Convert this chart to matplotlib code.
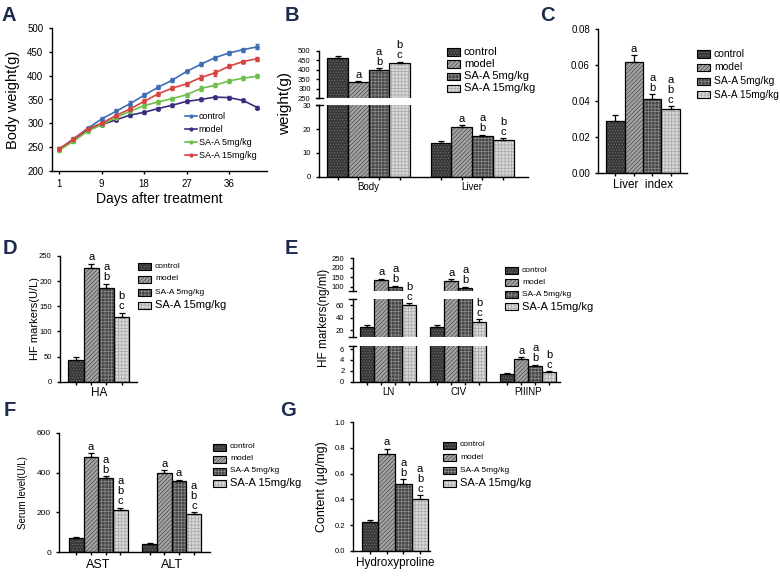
import numpy as np
import matplotlib.pyplot as plt
from matplotlib.patches import Rectangle
from matplotlib.ticker import FormatStrFormatter

plt.rcParams['font.family'] = ['Liberation Sans', 'DejaVu Sans']
plt.rcParams['hatch.linewidth'] = 0.5
plt.rcParams['axes.linewidth'] = 1.0
plt.rcParams['xtick.major.width'] = 1.0
plt.rcParams['ytick.major.width'] = 1.0
plt.rcParams['xtick.minor.width'] = 1.0
plt.rcParams['xtick.major.size'] = 2.5
plt.rcParams['ytick.major.size'] = 2.5
plt.rcParams['xtick.minor.size'] = 2.5

groups = ['control', 'model', 'SA-A 5mg/kg', 'SA-A 15mg/kg']

# A: body weight over time
days = [0, 3, 6, 9, 12, 15, 18, 21, 24, 27, 30, 33, 36, 39, 42]
day_ticks = [0, 9, 18, 27, 36]
day_labels = ['1', '9', '18', '27', '36']
bw_control = [245, 267, 289, 309, 325, 341, 359, 376, 391, 409, 424, 438, 448, 455, 461]
bw_model = [246, 264, 287, 297, 307, 317, 323, 331, 338, 346, 350, 355, 354, 348, 333]
bw_sa5 = [243, 262, 283, 297, 312, 325, 337, 345, 352, 360, 373, 380, 389, 395, 399]
bw_sa15 = [246, 266, 288, 300, 316, 330, 346, 362, 374, 383, 396, 406, 420, 430, 436]
err_control = [3, 3, 4, 5, 5, 5, 4, 4, 4, 4, 4, 4, 4, 4, 5]
err_model = [3, 3, 3, 3, 3, 3, 3, 3, 3, 3, 3, 3, 3, 3, 4]
err_sa5 = [3, 3, 3, 3, 3, 4, 4, 4, 4, 4, 5, 4, 4, 4, 4]
err_sa15 = [3, 3, 3, 3, 3, 4, 4, 4, 4, 4, 5, 6, 4, 4, 4]

# B: body and liver weight (rows = treatment, cols = group)
b_names = ['Body', 'Liver']
b_vals = [[460, 14.2], [333, 20.8], [399, 16.9], [435, 15.6]]
b_errs = [[12, 0.6], [8, 0.8], [8, 0.7], [7, 0.6]]
b_marks = [['', ''], ['a', 'a'], ['a\nb', 'a\nb'], ['b\nc', 'b\nc']]

# C: liver index
c_names = ['Liver  index']
c_vals = [[0.029], [0.062], [0.0415], [0.0355]]
c_errs = [[0.0035], [0.0035], [0.0025], [0.0018]]
c_marks = [[''], ['a'], ['a\nb'], ['a\nb\nc']]

# D: HA
d_names = ['HA']
d_vals = [[44], [226], [187], [128]]
d_errs = [[5], [9], [8], [9]]
d_marks = [[''], ['a'], ['a\nb'], ['b\nc']]

# E: LN, CIV, PIIINP
e_names = ['LN', 'CIV', 'PIIINP']
e_vals = [[26, 26, 1.4], [135, 130, 4.2], [97, 95, 2.9], [60, 34, 1.7]]
e_errs = [[2, 2, 0.15], [8, 8, 0.3], [8, 5, 0.2], [3, 4, 0.2]]
e_marks = [['', '', ''], ['a', 'a', 'a'], ['a\nb', 'a\nb', 'a\nb'], ['b\nc', 'b\nc', 'b\nc']]

# F: AST, ALT
f_names = ['AST', 'ALT']
f_vals = [[70, 42], [478, 397], [372, 358], [212, 192]]
f_errs = [[7, 5], [18, 15], [10, 6], [12, 10]]
f_marks = [['', ''], ['a', 'a'], ['a\nb', 'a'], ['a\nb\nc', 'a\nb\nc']]

# G: hydroxyproline
g_names = ['Hydroxyproline']
g_vals = [[0.22], [0.75], [0.52], [0.40]]
g_errs = [[0.02], [0.045], [0.035], [0.03]]
g_marks = [[''], ['a'], ['a\nb'], ['a\nb\nc']]

# fill colour, hatch, hatch colour
styles = [('#383838', '......', '#6e6e6e'),
          ('#a4a4a4', '////////', '#4a4a4a'),
          ('#474747', '+++++', '#8c8c8c'),
          ('#d8d8d8', '+++++', '#a8a8a8')]
line_colors = ['#3f6db5', '#3b2d7f', '#6cc04a', '#d9433f']

W, H = 780, 576
fig = plt.figure(figsize=(7.8, 5.76), dpi=100)


def box(x0, y0, x1, y1):
    ax = fig.add_axes([x0 / W, 1 - y1 / H, (x1 - x0) / W, (y1 - y0) / H])
    ax.spines[['top', 'right']].set_visible(False)
    ax.patch.set_alpha(0)
    return ax


def bars(ax, vals, errs, w=0.2):
    for i, st in enumerate(styles):
        xs = np.arange(len(vals[i])) + (i - 1.5) * w
        ax.bar(xs, vals[i], w, color=st[0], edgecolor=st[2], hatch=st[1], lw=0, zorder=2)
        ax.bar(xs, vals[i], w, fill=False, edgecolor='black', lw=0.9, zorder=3)
        ax.errorbar(xs, vals[i], yerr=[np.zeros(len(errs[i])), errs[i]], fmt='none',
                    ecolor='black', elinewidth=0.9, capsize=2.5, capthick=0.9, zorder=3)


def letters(axs, vals, errs, marks, w=0.2, fs=8):
    for i in range(4):
        for g in range(len(vals[i])):
            if not marks[i][g]:
                continue
            top = vals[i][g] + errs[i][g]
            ax = [a for a in axs if a.get_ylim()[0] <= top <= a.get_ylim()[1]][0]
            ax.annotate(marks[i][g], (g + (i - 1.5) * w, top), xytext=(0, 1),
                        textcoords='offset points', ha='center', va='bottom',
                        fontsize=fs, linespacing=1.0, annotation_clip=False)


def xgroups(ax, names, pad, fs, w=0.2):
    centers = [g + (i - 1.5) * w for g in range(len(names)) for i in range(4)]
    ax.set_xticks(centers, minor=True)
    ax.set_xticks(range(len(names)), names)
    ax.tick_params(axis='x', which='major', length=0, pad=pad, labelsize=fs)


def no_x(ax):
    ax.spines['bottom'].set_visible(False)
    ax.tick_params(axis='x', which='both', bottom=False, labelbottom=False)


def caps(ax, where):
    d = 3.5 / (ax.get_position().width * W)
    for y in where:
        ax.plot([-d, d], [y, y], transform=ax.transAxes, color='k', lw=1.0, clip_on=False)


def key(x, y, dy, sizes):
    for i, (st, lab) in enumerate(zip(styles, groups)):
        yc = y + i * dy
        for kw in (dict(facecolor=st[0], edgecolor=st[2], hatch=st[1], lw=0),
                   dict(fill=False, edgecolor='k', lw=0.8)):
            fig.add_artist(Rectangle((x / W, 1 - (yc + 3.5) / H), 13 / W, 7 / H,
                                     transform=fig.transFigure, **kw))
        fig.text((x + 17) / W, 1 - yc / H, lab, fontsize=sizes[i], va='center')


def ylab(ax, text, right_px, fs, frac=0.5):
    pos = ax.get_position()
    ax.set_ylabel(text, fontsize=fs)
    ax.yaxis.set_label_coords((right_px / W - pos.x0) / pos.width, frac)


def panel(x, y, s):
    fig.text(x / W, 1 - y / H, s, fontsize=14.5, fontweight='bold', color='#1d2b4f', va='top')


# ---- A
ax = box(51.7, 28.3, 266.7, 170.7)
series = [bw_control, bw_model, bw_sa5, bw_sa15]
errors = [err_control, err_model, err_sa5, err_sa15]
for vals, err, c, lab in zip(series, errors, line_colors, groups):
    ax.errorbar(days, vals, yerr=err, fmt='none', ecolor=c, elinewidth=0.8, capsize=1.5)
    ax.plot(days, vals, '-o', color=c, ms=2.5, lw=1.2, label=lab)
ax.set_xlim(-1.6, 44)
ax.set_ylim(200, 500)
ax.set_yticks(range(200, 501, 50))
ax.set_xticks(day_ticks, day_labels)
ax.tick_params(labelsize=7)
ax.set_xlabel('Days after treatment', fontsize=10, labelpad=2)
ylab(ax, 'Body weight(g)', 20, 10.5)
ax.legend(loc='upper left', bbox_to_anchor=(185 / W, 1 - 112 / H), bbox_transform=fig.transFigure,
          frameon=False, fontsize=6.5, handlelength=1.3, handletextpad=0.2, labelspacing=0.45,
          borderpad=0, borderaxespad=0, markerscale=0.8)
panel(2, 6, 'A')

# ---- B (broken axis)
bu = box(319, 50.7, 528, 98.3)
bl = box(319, 105.3, 528, 176.7)
for a in (bu, bl):
    bars(a, b_vals, b_errs)
    a.set_xlim(-0.48, 1.54)
    a.tick_params(labelsize=5.5)
bu.set_ylim(250, 500)
bu.set_yticks(range(250, 501, 50))
bl.set_ylim(0, 30)
bl.set_yticks([0, 10, 20, 30])
no_x(bu)
xgroups(bl, b_names, pad=3.5, fs=7)
caps(bu, [0])
caps(bl, [1])
letters([bl, bu], b_vals, b_errs, b_marks)
ylab(bl, 'weight(g)', 292, 11, frac=1.02)
key(447, 52, 12, [8, 8, 8, 8])
panel(285, 6, 'B')

# ---- C
ax = box(598.3, 29.3, 686.7, 173.3)
bars(ax, c_vals, c_errs)
ax.set_xlim(-0.486, 0.476)
ax.set_ylim(0, 0.08)
ax.set_yticks([0, 0.02, 0.04, 0.06, 0.08])
ax.yaxis.set_major_formatter(FormatStrFormatter('%.2f'))
ax.tick_params(labelsize=7)
xgroups(ax, c_names, pad=4, fs=8.5)
letters([ax], c_vals, c_errs, c_marks)
key(697, 54, 13.5, [7.5, 7.5, 7.5, 7.3])
panel(540, 6, 'C')

# ---- D
ax = box(60, 256, 136.7, 381.7)
bars(ax, d_vals, d_errs)
ax.set_xlim(-0.51, 0.50)
ax.set_ylim(0, 250)
ax.set_yticks(range(0, 251, 50))
ax.tick_params(labelsize=5.5)
xgroups(ax, d_names, pad=4, fs=8.5)
letters([ax], d_vals, d_errs, d_marks)
ylab(ax, 'HF markers(U/L)', 40, 8)
key(138, 266, 13, [6, 6, 6, 8])
panel(3, 239, 'D')

# ---- E (two breaks)
et = box(352.7, 258.3, 560, 291.4)
em = box(352.7, 299.1, 560, 336.6)
eb = box(352.7, 346.3, 560, 381.7)
for a in (et, em, eb):
    bars(a, e_vals, e_errs)
    a.set_xlim(-0.51, 2.45)
    a.tick_params(labelsize=5.5)
et.set_ylim(75, 250)
et.set_yticks([100, 150, 200, 250])
em.set_ylim(10, 70)
em.set_yticks([20, 40, 60])
eb.set_ylim(0, 6.5)
eb.set_yticks([0, 2, 4, 6])
no_x(et)
no_x(em)
xgroups(eb, e_names, pad=4, fs=7)
caps(et, [0])
caps(em, [0, 1])
caps(eb, [1])
letters([eb, em, et], e_vals, e_errs, e_marks)
ylab(em, 'HF markers(ng/ml)', 330, 8.5)
key(505, 270, 12.3, [6, 6, 6, 8])
panel(285, 239, 'E')

# ---- F
ax = box(59.3, 432.7, 210, 552.3)
bars(ax, f_vals, f_errs)
ax.set_xlim(-0.53, 1.52)
ax.set_ylim(0, 600)
ax.set_yticks([0, 200, 400, 600])
ax.tick_params(labelsize=6)
xgroups(ax, f_names, pad=4.5, fs=9)
letters([ax], f_vals, f_errs, f_marks)
ylab(ax, 'Serum level(U/L)', 28, 7)
key(213, 447, 12, [6, 6, 6, 8])
panel(4, 401, 'F')

# ---- G
ax = box(353.3, 422.3, 430, 550.7)
bars(ax, g_vals, g_errs)
ax.set_xlim(-0.5, 0.42)
ax.set_ylim(0, 1.0)
ax.set_yticks([0, 0.2, 0.4, 0.6, 0.8, 1.0])
ax.yaxis.set_major_formatter(FormatStrFormatter('%.1f'))
ax.tick_params(labelsize=5.5)
xgroups(ax, g_names, pad=4.5, fs=8.5)
letters([ax], g_vals, g_errs, g_marks)
ylab(ax, 'Content (μg/mg)', 328, 9)
key(443, 445, 12.7, [6, 6, 6, 8])
panel(280, 401, 'G')

fig.savefig('out.png', dpi=100)
